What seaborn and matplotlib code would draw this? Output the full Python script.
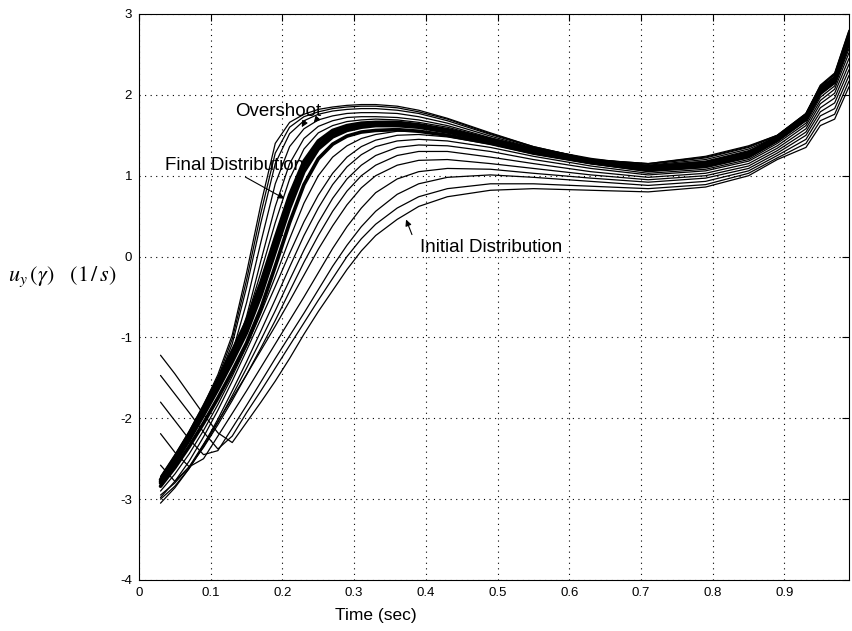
import numpy as np
import pandas as pd
import matplotlib
matplotlib.use("Agg")
import matplotlib.pyplot as plt
import seaborn as sns

# sample times (sec)
time = [0.03, 0.05, 0.07, 0.09, 0.11, 0.13, 0.15, 0.17, 0.19, 0.21,
        0.23, 0.25, 0.27, 0.29, 0.31, 0.33, 0.36, 0.39, 0.43, 0.49,
        0.55, 0.63, 0.71, 0.79, 0.85, 0.89, 0.93, 0.95, 0.97, 0.99]

# early iterations (e0 = initial distribution)
e0 = [-1.22, -1.45, -1.70, -1.95, -2.18, -2.30, -2.05, -1.80, -1.54, -1.26,
      -0.96, -0.68, -0.42, -0.16, 0.07, 0.26, 0.46, 0.62, 0.74, 0.82,
      0.84, 0.82, 0.80, 0.86, 1.00, 1.20, 1.35, 1.62, 1.70, 2.10]
e1 = [-1.47, -1.70, -1.93, -2.17, -2.38, -2.22, -1.93, -1.66, -1.38, -1.10,
      -0.82, -0.54, -0.27, 0.00, 0.22, 0.40, 0.60, 0.74, 0.84, 0.90,
      0.90, 0.87, 0.84, 0.89, 1.03, 1.22, 1.40, 1.68, 1.76, 2.17]
e2 = [-1.80, -2.03, -2.26, -2.45, -2.40, -2.12, -1.84, -1.55, -1.26, -0.98,
      -0.70, -0.41, -0.12, 0.14, 0.37, 0.56, 0.77, 0.90, 0.98, 1.01,
      0.98, 0.93, 0.88, 0.93, 1.06, 1.25, 1.45, 1.74, 1.83, 2.24]
e3 = [-2.19, -2.42, -2.60, -2.50, -2.22, -1.94, -1.66, -1.37, -1.08, -0.79,
      -0.50, -0.20, 0.10, 0.37, 0.60, 0.79, 0.96, 1.05, 1.09, 1.08,
      1.03, 0.97, 0.92, 0.97, 1.09, 1.28, 1.50, 1.79, 1.90, 2.31]
e4 = [-2.58, -2.78, -2.60, -2.32, -2.04, -1.75, -1.46, -1.16, -0.86, -0.55,
      -0.23, 0.09, 0.38, 0.64, 0.85, 1.00, 1.13, 1.19, 1.20, 1.15,
      1.09, 1.01, 0.95, 1.00, 1.12, 1.31, 1.54, 1.84, 1.96, 2.38]
e5 = [-2.95, -2.80, -2.60, -2.36, -2.08, -1.78, -1.46, -1.13, -0.79, -0.43,
      -0.07, 0.26, 0.56, 0.81, 1.00, 1.13, 1.25, 1.30, 1.30, 1.23,
      1.15, 1.05, 0.98, 1.03, 1.15, 1.34, 1.58, 1.89, 2.02, 2.45]
e6 = [-3.00, -2.84, -2.62, -2.35, -2.05, -1.72, -1.38, -1.03, -0.67, -0.29,
      0.08, 0.42, 0.72, 0.96, 1.13, 1.25, 1.35, 1.38, 1.37, 1.30,
      1.20, 1.09, 1.01, 1.06, 1.18, 1.37, 1.62, 1.93, 2.07, 2.52]
e7 = [-3.05, -2.86, -2.62, -2.33, -2.01, -1.66, -1.30, -0.92, -0.53, -0.13,
      0.26, 0.60, 0.89, 1.11, 1.26, 1.36, 1.43, 1.45, 1.43, 1.35,
      1.24, 1.12, 1.03, 1.08, 1.20, 1.40, 1.65, 1.97, 2.11, 2.57]
e8 = [-2.98, -2.78, -2.53, -2.23, -1.90, -1.54, -1.16, -0.77, -0.37, 0.04,
      0.43, 0.76, 1.03, 1.23, 1.36, 1.44, 1.50, 1.51, 1.48, 1.39,
      1.27, 1.15, 1.05, 1.10, 1.22, 1.42, 1.68, 2.00, 2.14, 2.62]
g0 = [-2.90, -2.69, -2.44, -2.15, -1.83, -1.48, -1.11, -0.70, -0.25, 0.22,
      0.66, 1.00, 1.23, 1.37, 1.46, 1.51, 1.55, 1.55, 1.50, 1.40,
      1.28, 1.15, 1.06, 1.11, 1.23, 1.43, 1.69, 2.01, 2.15, 2.63]

# converged band (final distribution)
f0 = [-2.84, -2.61, -2.35, -2.06, -1.75, -1.42, -1.07, -0.64, -0.12, 0.42,
      0.89, 1.21, 1.39, 1.49, 1.54, 1.56, 1.57, 1.55, 1.50, 1.40,
      1.28, 1.16, 1.07, 1.12, 1.24, 1.44, 1.70, 2.03, 2.16, 2.65]
f1 = [-2.80, -2.55, -2.27, -1.96, -1.64, -1.30, -0.94, -0.48, 0.06, 0.60,
      1.05, 1.33, 1.48, 1.56, 1.60, 1.62, 1.62, 1.60, 1.54, 1.43,
      1.31, 1.18, 1.09, 1.14, 1.26, 1.46, 1.72, 2.05, 2.18, 2.68]
f2 = [-2.76, -2.49, -2.19, -1.86, -1.52, -1.17, -0.80, -0.32, 0.23, 0.76,
      1.18, 1.43, 1.56, 1.62, 1.65, 1.66, 1.66, 1.63, 1.57, 1.45,
      1.33, 1.20, 1.11, 1.16, 1.28, 1.48, 1.74, 2.07, 2.20, 2.71]
f3 = [-2.78, -2.52, -2.23, -1.91, -1.58, -1.23, -0.87, -0.40, 0.15, 0.68,
      1.12, 1.38, 1.52, 1.59, 1.63, 1.64, 1.64, 1.62, 1.56, 1.44,
      1.32, 1.19, 1.10, 1.15, 1.27, 1.47, 1.73, 2.06, 2.19, 2.70]

# overshoot iterations
m0 = [-2.77, -2.51, -2.22, -1.91, -1.57, -1.21, -0.78, -0.19, 0.42, 0.96,
      1.33, 1.53, 1.62, 1.67, 1.69, 1.70, 1.69, 1.66, 1.60, 1.46,
      1.32, 1.19, 1.11, 1.17, 1.30, 1.47, 1.73, 2.07, 2.21, 2.72]
o0 = [-2.78, -2.53, -2.26, -1.96, -1.63, -1.26, -0.74, -0.05, 0.62, 1.15,
      1.46, 1.61, 1.68, 1.72, 1.73, 1.73, 1.72, 1.69, 1.62, 1.47,
      1.33, 1.19, 1.12, 1.18, 1.31, 1.47, 1.74, 2.08, 2.22, 2.73]
o1 = [-2.76, -2.51, -2.24, -1.94, -1.60, -1.19, -0.57, 0.18, 0.90, 1.36,
      1.58, 1.69, 1.74, 1.77, 1.78, 1.78, 1.77, 1.73, 1.65, 1.49,
      1.34, 1.19, 1.13, 1.20, 1.33, 1.48, 1.75, 2.09, 2.23, 2.75]
o2 = [-2.74, -2.48, -2.20, -1.89, -1.53, -1.08, -0.38, 0.42, 1.15, 1.52,
      1.68, 1.76, 1.80, 1.82, 1.83, 1.83, 1.81, 1.77, 1.68, 1.51,
      1.35, 1.20, 1.14, 1.22, 1.35, 1.49, 1.76, 2.10, 2.25, 2.77]
o4 = [-2.73, -2.46, -2.18, -1.86, -1.50, -1.02, -0.29, 0.54, 1.28, 1.60,
      1.73, 1.79, 1.83, 1.85, 1.86, 1.86, 1.84, 1.79, 1.70, 1.52,
      1.36, 1.20, 1.15, 1.23, 1.36, 1.50, 1.77, 2.11, 2.26, 2.79]
o3 = [-2.72, -2.45, -2.16, -1.84, -1.46, -0.97, -0.20, 0.65, 1.40, 1.66,
      1.76, 1.82, 1.85, 1.87, 1.88, 1.88, 1.86, 1.81, 1.71, 1.53,
      1.36, 1.20, 1.15, 1.24, 1.37, 1.50, 1.77, 2.12, 2.27, 2.80]

early = {"e0": e0, "e1": e1, "e2": e2, "e3": e3, "e4": e4,
         "e5": e5, "e6": e6, "e7": e7, "e8": e8, "g0": g0}
band = {"f0": f0, "f1": f1, "f2": f2, "f3": f3}
over = {"m0": m0, "o0": o0, "o1": o1, "o2": o2, "o4": o4, "o3": o3}


def to_long(curves):
    rows = []
    for name, ys in curves.items():
        for t, y in zip(time, ys):
            rows.append((name, t, y))
    return pd.DataFrame(rows, columns=["curve", "t", "u"])


sns.set_style("white")
plt.rcParams["font.family"] = ["Liberation Sans", "DejaVu Sans"]
plt.rcParams["mathtext.fontset"] = "stix"
plt.rcParams["axes.unicode_minus"] = False
plt.rcParams["text.color"] = "k"
plt.rcParams["axes.labelcolor"] = "k"

fig = plt.figure(figsize=(8.52, 6.31), dpi=100)
ax = fig.add_axes([139 / 852, 1 - 580 / 631, 710 / 852, 566 / 631])

for curves, lw in [(early, 0.9), (over, 0.9), (band, 2.6)]:
    sns.lineplot(data=to_long(curves), x="t", y="u", units="curve",
                 estimator=None, color="k", lw=lw, ax=ax, legend=False)

ax.set_xlim(0, 0.99)
ax.set_ylim(-4, 3)
ax.set_xticks(np.arange(0, 1.0, 0.1))
ax.set_xticklabels(["0", "0.1", "0.2", "0.3", "0.4", "0.5", "0.6", "0.7", "0.8", "0.9"])
ax.set_yticks(range(-4, 4))
ax.grid(True, color="k", linestyle=(0, (1, 4)), lw=0.8)
ax.tick_params(direction="in", length=5, width=0.8, top=True, right=True,
               labelsize=9.5, colors="k", pad=5)
for s in ax.spines.values():
    s.set_color("k")
    s.set_linewidth(0.8)

ax.set_xlabel("Time (sec)", fontsize=12.5)
ax.xaxis.set_label_coords((376 - 139) / 710, -0.05)
ax.set_ylabel("")
fig.text(8 / 852, 1 - 277 / 631, r"$u_y\,(\gamma)\ \ \ (1\,/\,s)$", fontsize=16,
         va="center", ha="left")

arrow = dict(arrowstyle="-|>", color="k", lw=0.8, mutation_scale=9)
ax.text(0.134, 1.79, "Overshoot", fontsize=13.5, va="center", ha="left")
ax.annotate("", xy=(0.225, 1.57), xytext=(0.234, 1.71), arrowprops=arrow)
ax.annotate("", xy=(0.241, 1.63), xytext=(0.249, 1.71), arrowprops=arrow)
ax.text(0.036, 1.13, "Final Distribution", fontsize=13.5, va="center", ha="left")
ax.annotate("", xy=(0.206, 0.70), xytext=(0.145, 1.0), arrowprops=arrow)
ax.text(0.392, 0.116, "Initial Distribution", fontsize=13.5, va="center", ha="left")
ax.annotate("", xy=(0.371, 0.49), xytext=(0.382, 0.24), arrowprops=arrow)

fig.savefig("out.png", dpi=100)
